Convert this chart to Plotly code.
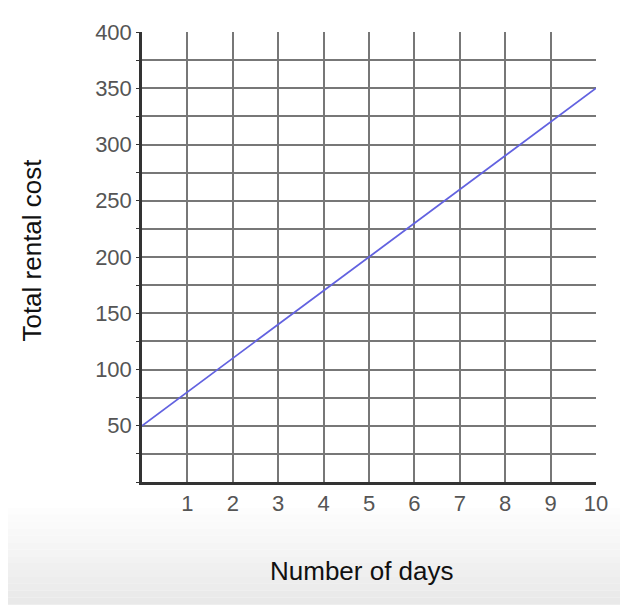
import plotly.graph_objects as go

days = [0, 10]
cost = [50, 350]
x_ticks = [1, 2, 3, 4, 5, 6, 7, 8, 9, 10]
y_ticks = [50, 100, 150, 200, 250, 300, 350, 400]

fig = go.Figure()
fig.add_trace(go.Scatter(x=days, y=cost, mode="lines",
                         line=dict(color="#6262e0", width=1.8), showlegend=False))

W, H = 620, 598          # page has an 8px body margin
L, T, PW, PH = 134, 19, 454, 455
B = H - T - PH
R = W - L - PW

# light gray gradient at the bottom of the page
n = 14
top_px, bot_px = 500, H
for i in range(n):
    a = top_px + (bot_px - top_px) * i / n
    b = top_px + (bot_px - top_px) * (i + 1) / n
    g = int(255 - (255 - 233) * (i + 1) / n)
    fig.add_shape(type="rect", xref="paper", yref="paper",
                  x0=-L / PW - 0.1, x1=1 + R / PW + 0.1,
                  y0=(T + PH - b) / PH, y1=(T + PH - a) / PH,
                  fillcolor=f"rgb({g},{g},{g})", line_width=0, layer="below")

grid = "#777777"
fig.update_layout(
    width=W, height=H,
    margin=dict(l=L, r=R, t=T, b=B),
    paper_bgcolor="white", plot_bgcolor="white",
    font=dict(family="Liberation Sans, Arial, sans-serif", color="#555"),
    xaxis=dict(range=[0, 10], tickvals=x_ticks, showgrid=True,
               gridcolor=grid, gridwidth=1.6, showline=True, linecolor="#333",
               linewidth=2.5, ticks="",
               tickfont=dict(size=22, color="#555"), zeroline=False),
    yaxis=dict(range=[0, 400], tickvals=y_ticks, showgrid=True,
               gridcolor=grid, gridwidth=1.6,
               showline=True, linecolor="#333", linewidth=2.5,
               ticks="outside", ticklen=3, tickcolor="#333",
               tickfont=dict(size=22, color="#555"), zeroline=False,
               minor=dict(dtick=25, showgrid=True, gridcolor=grid, gridwidth=1.6,
                          ticks="outside", ticklen=3, tickcolor="#333")),
    annotations=[
        dict(text="Number of days", xref="paper", yref="paper",
             x=(362 - 142) / PW, y=(482 - 572) / PH, showarrow=False,
             xanchor="center", yanchor="middle",
             font=dict(size=26, color="#111")),
        dict(text="Total rental cost", xref="paper", yref="paper",
             x=(32 - 142) / PW, y=(482 - 248) / PH, showarrow=False, textangle=-90,
             xanchor="center", yanchor="middle",
             font=dict(size=26, color="#111")),
    ],
)
fig.write_html("out.html")
